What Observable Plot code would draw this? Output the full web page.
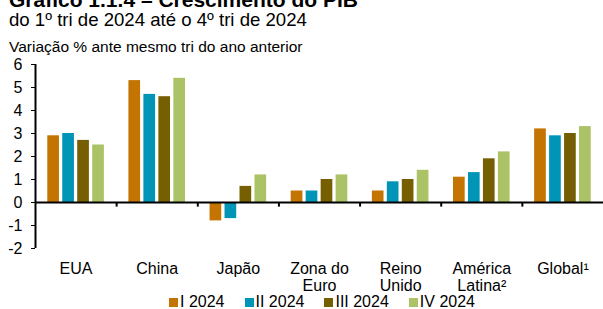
<!DOCTYPE html>
<html>
<head>
<meta charset="utf-8">
<script src="https://cdn.jsdelivr.net/npm/d3@7"></script>
<script src="https://cdn.jsdelivr.net/npm/@observablehq/plot@0.6"></script>
<style>
  html, body { margin: 0; padding: 0; background: #fff; }
  body { width: 603px; height: 309px; position: relative; overflow: hidden; font-family: "Liberation Sans", Arial, sans-serif; color: #000; }
  .t { position: absolute; left: 9px; white-space: nowrap; }
  #title { top: -11px; font-size: 21px; line-height: 21px; font-weight: bold; }
  #subtitle { top: 11px; font-size: 18.6px; line-height: 18.6px; }
  #ylab { top: 39px; font-size: 15.5px; line-height: 15.5px; }
  #chart { position: absolute; left: 0; top: 56px; }
  #legend { position: absolute; top: 294px; left: 35px; width: 568px; display: flex; justify-content: center; gap: 20px; font-size: 16px; line-height: 16px; padding-left: 6px; box-sizing: border-box; }
  #legend .item { display: flex; align-items: center; }
  #legend .sw { width: 9px; height: 9px; margin-right: 2px; }
</style>
</head>
<body>
<div class="t" id="title">Gráfico 1.1.4 – Crescimento do PIB</div>
<div class="t" id="subtitle">do 1º tri de 2024 até o 4º tri de 2024</div>
<div class="t" id="ylab">Variação % ante mesmo tri do ano anterior</div>
<div id="chart"></div>
<div id="legend"></div>
<script>
const countries = ["EUA", "China", "Japão", "Zona do\nEuro", "Reino\nUnido", "América\nLatina²", "Global¹"];
const quarters = ["I 2024", "II 2024", "III 2024", "IV 2024"];
const q1 = [2.9, 5.3, -0.8, 0.5, 0.5, 1.1, 3.2];
const q2 = [3.0, 4.7, -0.7, 0.5, 0.9, 1.3, 2.9];
const q3 = [2.7, 4.6, 0.7, 1.0, 1.0, 1.9, 3.0];
const q4 = [2.5, 5.4, 1.2, 1.2, 1.4, 2.2, 3.3];
const yTicks = [-2, -1, 0, 1, 2, 3, 4, 5, 6];
const colors = ["#C47400", "#0094B7", "#765F00", "#ABC266"];

const series = [q1, q2, q3, q4];
// sub-band layout of the four quarters inside each country slot
const sub = d3.scaleBand(quarters, [0, 1]).paddingInner(0.22).paddingOuter(0.82);
const rows = [];
countries.forEach((c, i) => {
  quarters.forEach((q, j) => {
    rows.push({country: c, index: i, quarter: q, value: series[j][i]});
  });
});

const chart = Plot.plot({
  width: 603,
  height: 238,
  marginLeft: 35,
  marginRight: 0,
  marginTop: 8,
  marginBottom: 46,
  style: {fontFamily: "'Liberation Sans', Arial, sans-serif", fontSize: "16px", color: "#000", background: "#fff"},
  x: {domain: [0, countries.length], axis: null},
  y: {domain: [-2, 6], ticks: yTicks, tickSize: 4, tickPadding: 9, tickFormat: d => String(d), label: null},
  color: {domain: quarters, range: colors},
  marks: [
    Plot.rect(rows, {
      x1: d => d.index + sub(d.quarter),
      x2: d => d.index + sub(d.quarter) + sub.bandwidth(),
      y1: 0,
      y2: "value",
      fill: "quarter"
    }),
    Plot.ruleX([0], {strokeWidth: 2}),
    Plot.ruleY([0], {strokeWidth: 2}),
    Plot.ruleX(d3.range(1, countries.length), {x: d => d, y1: 0, y2: -0.2, strokeWidth: 2}),
    Plot.text(countries, {
      x: (d, i) => i + 0.5,
      text: d => d,
      frameAnchor: "bottom",
      lineAnchor: "top",
      dy: 13,
      lineHeight: 1.07,
      fontSize: 16
    })
  ]
});
document.getElementById("chart").appendChild(chart);

const legend = document.getElementById("legend");
quarters.forEach((q, j) => {
  const it = document.createElement("div");
  it.className = "item";
  const sw = document.createElement("span");
  sw.className = "sw";
  sw.style.background = colors[j];
  const tx = document.createElement("span");
  tx.textContent = q;
  it.appendChild(sw);
  it.appendChild(tx);
  legend.appendChild(it);
});
</script>
</body>
</html>
